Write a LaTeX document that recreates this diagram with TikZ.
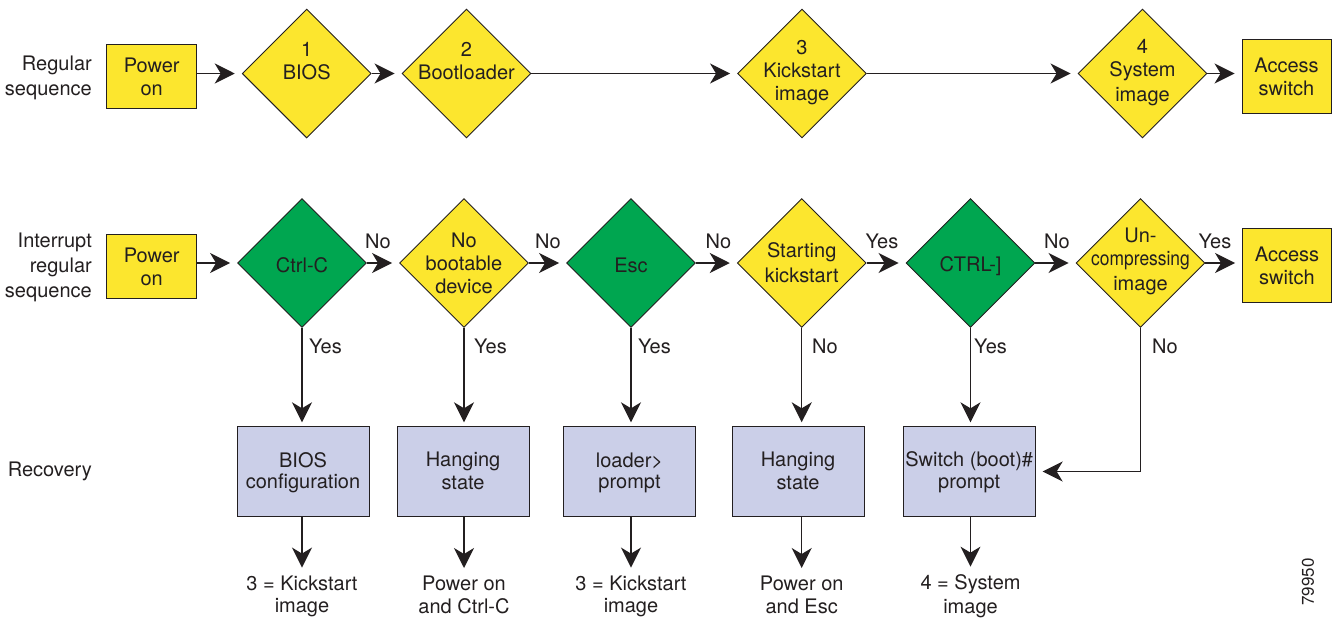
\documentclass[tikz,border=0pt]{standalone}
\usepackage{graphicx}
\usepackage{fontspec}
\setmainfont{TeX Gyre Heros}
\usetikzlibrary{shapes.geometric,arrows.meta}
\definecolor{ink}{HTML}{231F20}
\definecolor{yel}{HTML}{FCE62E}
\definecolor{grn}{HTML}{00A650}
\definecolor{lav}{HTML}{CBCFE8}
\newcommand\mystr{\rule[-3.5pt]{0pt}{23pt}}
\newcommand\recstr{\rule[-4pt]{0pt}{21pt}}
\newcommand\botstr{\rule[-3.5pt]{0pt}{22.5pt}}
\begin{document}
\begin{tikzpicture}[x=1pt,y=-1pt,
 txt/.style={font=\fontsize{20}{23}\selectfont, align=center, inner sep=0pt, text=ink},
 dia/.style={diamond, draw=ink, line width=0.9pt, minimum width=129pt, minimum height=129pt, inner sep=0pt, aspect=1},
 ybox/.style={rectangle, draw=ink, line width=0.9pt, fill=yel, txt, minimum width=90pt, minimum height=64pt},
 abox/.style={ybox, minimum width=89pt, minimum height=74pt},
 rbox/.style={rectangle, draw=ink, line width=0.9pt, fill=lav, txt, font=\fontsize{20}{21}\selectfont, minimum width=132pt, minimum height=89.5pt},
 blab/.style={txt, font=\fontsize{20}{22.5}\selectfont},
 arr/.style={draw=ink, line width=1.4pt, -{Stealth[length=20pt,width=20pt,inset=6pt]}},
]
\path[use as bounding box] (0,0) rectangle (1333,619);

% ---------- labels on the left
\node[txt, align=right, anchor=east] (lreg) at (92,75.5) {\mystr Regular\\\mystr sequence};
\node[txt, align=right, anchor=east] (lint) at (92,265) {\mystr Interrupt\\\mystr regular\\\mystr sequence};
\node[txt, anchor=base east] (lrec) at (92,476) {Recovery};

% ---------- regular sequence
\node[ybox] (pon1) at (151.7,76.3) {\mystr Power\\\mystr on};
\node[dia, fill=yel] (bios) at (306.7,73.5) {};
\node[txt] (biosT) at (306.7,60.2) {\mystr 1\\\mystr BIOS};
\node[dia, fill=yel] (boot) at (466.5,73.5) {};
\node[txt] (bootT) at (466.5,59.5) {\mystr 2\\\mystr Bootloader};
\node[dia, fill=yel] (kick) at (802,73.5) {};
\node[txt] (kickT) at (802,70) {\mystr 3\\\mystr Kickstart\\\mystr image};
\node[dia, fill=yel] (sys) at (1142.5,73.5) {};
\node[txt] (sysT) at (1142.5,70) {\mystr 4\\\mystr System\\\mystr image};
\node[abox] (acc1) at (1286.5,76) {\mystr Access\\\mystr switch};

\draw[arr, shorten >=7pt] (pon1.east |- bios.west) -- (bios.west);
\draw[arr, shorten >=7pt] (bios.east) -- (boot.west);
\draw[arr, shorten >=7pt] (boot.east) -- (kick.west);
\draw[arr, shorten >=7pt] (kick.east) -- (sys.west);
\draw[arr, shorten >=7pt] (sys.east) -- (acc1.west |- sys.east);

% ---------- interrupted sequence
\node[ybox] (pon2) at (151.7,266) {\mystr Power\\\mystr on};
\node[dia, fill=grn] (cc) at (302,263) {};
\node[txt] (ccT) at (302,264) {\mystr Ctrl-C};
\node[dia, fill=yel] (nb) at (464,263) {};
\node[txt] (nbT) at (464,262) {\mystr No\\\mystr bootable\\\mystr device};
\node[dia, fill=grn] (esc) at (631,263) {};
\node[txt] (escT) at (631,264) {\mystr Esc};
\node[dia, fill=yel] (st) at (801.7,263) {};
\node[txt] (stT) at (801.7,262) {\mystr Starting\\\mystr kickstart};
\node[dia, fill=grn] (ct) at (970.5,263) {};
\node[txt] (ctT) at (970.5,264) {\mystr CTRL-]};
\node[dia, fill=yel] (un) at (1140.5,263) {};
\node[txt] (unT) at (1140.5,259) {\mystr Un-\\\mystr \scalebox{0.87}[1]{compressing}\\\mystr image};
\node[abox] (acc2) at (1287,265) {\mystr Access\\\mystr switch};

\draw[arr, shorten >=7pt] (pon2.east |- cc.west) -- (cc.west);
\draw[arr, shorten >=7pt] (cc.east) -- (nb.west);
\draw[arr, shorten >=7pt] (nb.east) -- (esc.west);
\draw[arr, shorten >=7pt] (esc.east) -- (st.west);
\draw[arr, shorten >=7pt] (st.east) -- (ct.west);
\draw[arr, shorten >=7pt] (ct.east) -- (un.west);
\draw[arr, shorten >=7pt] (un.east) -- (acc2.west |- un.east);

\node[txt, anchor=base] (h1) at (378,248) {No};
\node[txt, anchor=base] (h2) at (548,248) {No};
\node[txt, anchor=base] (h3) at (718.5,248) {No};
\node[txt, anchor=base] (h4) at (882,248) {Yes};
\node[txt, anchor=base] (h5) at (1057,248) {No};
\node[txt, anchor=base] (h6) at (1215,248) {Yes};

% ---------- recovery
\node[rbox] (r1) at (303,471.5) {\recstr BIOS\\\recstr configuration};
\node[rbox] (r2) at (463,471.5) {\recstr Hanging\\\recstr state};
\node[rbox] (r3) at (629.5,471.5) {\recstr loader>\\\recstr prompt};
\node[rbox] (r4) at (798,471.5) {\recstr Hanging\\\recstr state};
\node[rbox] (r5) at (969.2,471.5) {\recstr Switch (boot)\#\\\recstr prompt};

\draw[arr, shorten >=4pt] (cc.south) -- (cc.south |- r1.north);
\draw[arr, shorten >=4pt] (nb.south) -- (nb.south |- r2.north);
\draw[arr, shorten >=4pt] (esc.south) -- (esc.south |- r3.north);
\draw[arr, shorten >=4pt] (st.south) -- (st.south |- r4.north);
\draw[arr, shorten >=4pt] (ct.south) -- (ct.south |- r5.north);
\draw[arr, shorten >=7pt] (un.south) |- (r5.east);

\node[txt, anchor=base west] (v1) at (309,353) {Yes};
\node[txt, anchor=base west] (v2) at (474,353) {Yes};
\node[txt, anchor=base west] (v3) at (638,353) {Yes};
\node[txt, anchor=base west] (v4) at (812,353) {No};
\node[txt, anchor=base west] (v5) at (974,353) {Yes};
\node[txt, anchor=base west] (v6) at (1152,353) {No};

% ---------- bottom results
\node[blab] (b1) at (302,594.2) {\botstr 3 = Kickstart\\\botstr image};
\node[blab] (b2) at (464,594.2) {\botstr Power on\\\botstr and Ctrl-C};
\node[blab] (b3) at (631,594.2) {\botstr 3 = Kickstart\\\botstr image};
\node[blab] (b4) at (801.7,594.2) {\botstr Power on\\\botstr and Esc};
\node[blab] (b5) at (970.5,594.2) {\botstr 4 = System\\\botstr image};

\draw[arr, shorten >=3.5pt] (cc.south |- r1.south) -- (cc.south |- b1.north);
\draw[arr, shorten >=3.5pt] (nb.south |- r2.south) -- (nb.south |- b2.north);
\draw[arr, shorten >=3.5pt] (esc.south |- r3.south) -- (esc.south |- b3.north);
\draw[arr, shorten >=3.5pt] (st.south |- r4.south) -- (st.south |- b4.north);
\draw[arr, shorten >=3.5pt] (ct.south |- r5.south) -- (ct.south |- b5.north);

\node[txt, font=\fontsize{17}{20}\selectfont, rotate=90] (fig) at (1308,582) {79950};
\end{tikzpicture}
\end{document}
